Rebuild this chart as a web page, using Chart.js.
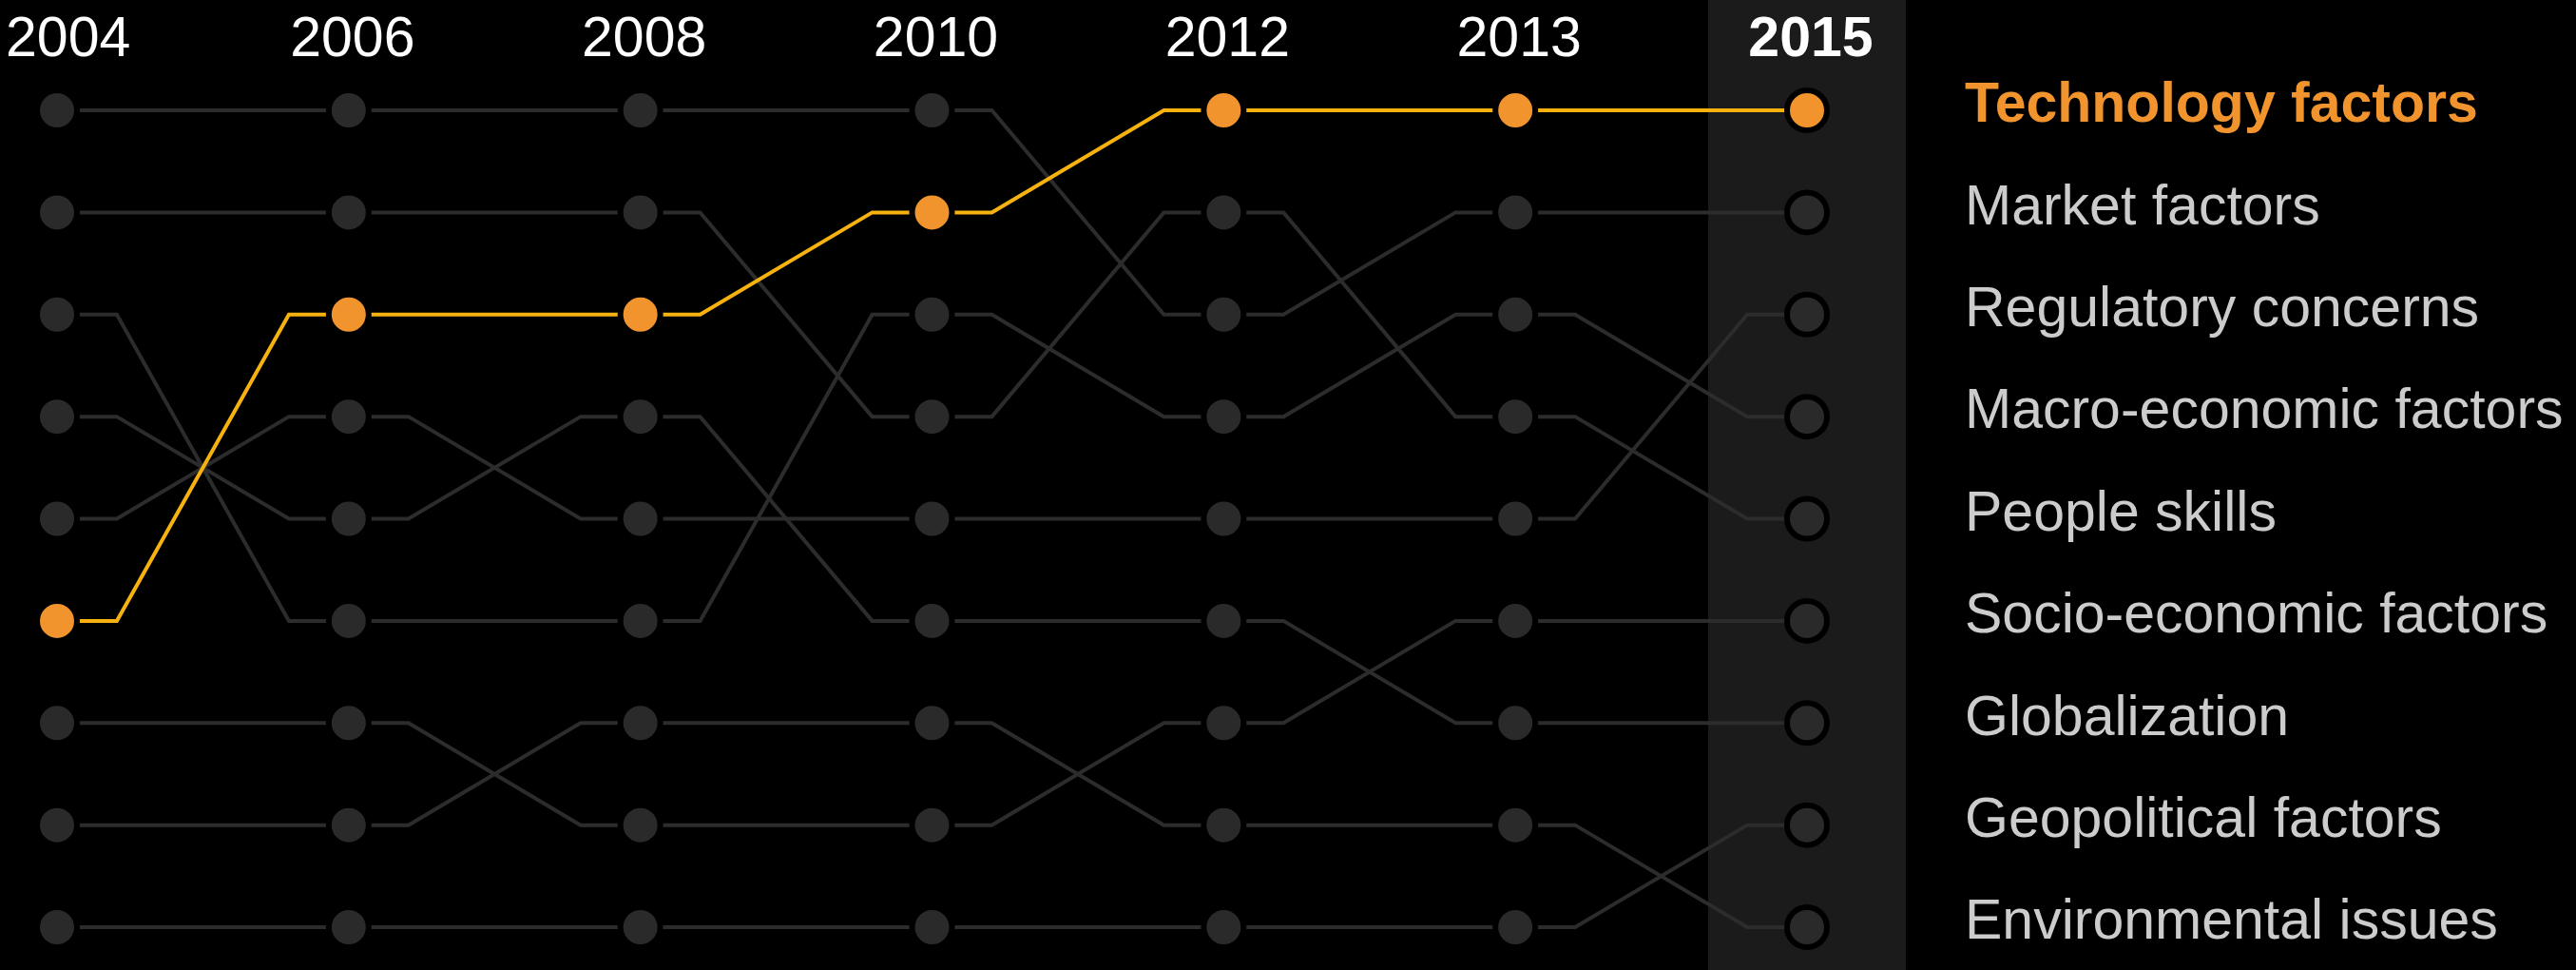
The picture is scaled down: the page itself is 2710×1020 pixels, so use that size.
<!DOCTYPE html>
<html>
<head>
<meta charset="utf-8">
<script src="https://cdn.jsdelivr.net/npm/chart.js@4.4.1/dist/chart.umd.min.js"></script>
<style>
    html, body { margin: 0; padding: 0; background: #000; }
    canvas { display: block; background: #000; }
</style>
</head>
<body>
<canvas id="chart-bump" width="2710" height="1020"></canvas>
<script>
var years = ["2004", "2006", "2008", "2010", "2012", "2013", "2015"];

// rank per year (1 = top), same order as years
var technology = [6, 3, 3, 2, 1, 1, 1];
var market = [1, 1, 1, 1, 3, 2, 2];
var regulatory = [5, 4, 5, 5, 5, 5, 3];
var macroEconomic = [3, 6, 6, 3, 4, 3, 4];
var peopleSkills = [2, 2, 2, 4, 2, 4, 5];
var socioEconomic = [7, 7, 8, 8, 7, 6, 6];
var globalization = [4, 5, 4, 6, 6, 7, 7];
var geopolitical = [9, 9, 9, 9, 9, 9, 8];
var environmental = [8, 8, 7, 7, 8, 8, 9];

var factorNames = ["Technology factors", "Market factors", "Regulatory concerns", "Macro-economic factors",
    "People skills", "Socio-economic factors", "Globalization", "Geopolitical factors", "Environmental issues"];
var factorRanks = [technology, market, regulatory, macroEconomic, peopleSkills, socioEconomic,
    globalization, geopolitical, environmental];

var ELBOW = 0.205; // short flat run next to each dot
var FONT = "'Liberation Sans', Arial, sans-serif";

function buildPath(ranks) {
    var pts = [];
    for (var i = 0; i < ranks.length; i++) {
        pts.push({ x: i, y: ranks[i], dot: true });
        if (i < ranks.length - 1) {
            pts.push({ x: i + ELBOW, y: ranks[i], dot: false });
            pts.push({ x: i + 1 - ELBOW, y: ranks[i + 1], dot: false });
        }
    }
    return pts;
}

var datasets = factorRanks.map(function(ranks, idx) {
    var hot = idx === 0;
    return {
        label: factorNames[idx],
        data: buildPath(ranks),
        borderColor: hot ? "#f7b20f" : "#2c2c2c",
        borderWidth: 4,
        tension: 0,
        fill: false,
        clip: false,
        pointRadius: function(c) { return c.raw && c.raw.dot ? 21 : 0; },
        pointBackgroundColor: hot ? "#f1942e" : "#2a2a2a",
        pointBorderColor: "#000",
        pointBorderWidth: 6
    };
});

var bandAndYears = {
    id: "bandAndYears",
    beforeDatasetsDraw(chart) {
        var ctx = chart.ctx;
        var x = chart.scales.x.getPixelForValue(years.length - 1);
        ctx.save();
        ctx.fillStyle = "#1b1b1b";
        ctx.fillRect(x - 104, 0, 208, chart.height);
        ctx.restore();
    },
    afterDraw(chart) {
        var ctx = chart.ctx;
        var xs = chart.scales.x;
        ctx.save();
        ctx.fillStyle = "#fff";
        ctx.textAlign = "center";
        ctx.textBaseline = "alphabetic";
        years.forEach(function(y, i) {
            var last = i === years.length - 1;
            ctx.font = (last ? "bold " : "") + "59px " + FONT;
            var w = ctx.measureText(y).width;
            var px = Math.max(xs.getPixelForValue(i) + 4, 6 + w / 2);
            ctx.fillText(y, px, 59);
        });
        ctx.restore();
    }
};

new Chart(document.getElementById("chart-bump").getContext("2d"), {
    type: "line",
    data: { datasets: datasets },
    plugins: [bandAndYears],
    options: {
        responsive: false,
        devicePixelRatio: 1,
        animation: false,
        events: [],
        layout: { padding: { left: 60, right: 0, top: 116, bottom: 45 } },
        plugins: {
            legend: { display: false },
            tooltip: { enabled: false }
        },
        scales: {
            x: {
                type: "linear",
                min: 0,
                max: years.length - 1,
                display: false
            },
            y: {
                min: 1,
                max: 9,
                reverse: true,
                display: false
            },
            y2: {
                position: "right",
                min: 1,
                max: 9,
                reverse: true,
                grid: { display: false, drawTicks: false },
                border: { display: false },
                afterFit: function(scale) {
                    scale.width = 809;
                    scale.paddingTop = 0;
                    scale.paddingBottom = 0;
                },
                ticks: {
                    stepSize: 1,
                    autoSkip: false,
                    padding: 166,
                    labelOffset: -4,
                    callback: function(value) { return factorNames[value - 1]; },
                    color: function(c) { return c.tick && c.tick.value === 1 ? "#f1942e" : "#cccccc"; },
                    font: function(c) {
                        return {
                            family: FONT,
                            size: 59,
                            weight: c.tick && c.tick.value === 1 ? "bold" : "normal"
                        };
                    }
                }
            }
        }
    }
});
</script>
</body>
</html>
